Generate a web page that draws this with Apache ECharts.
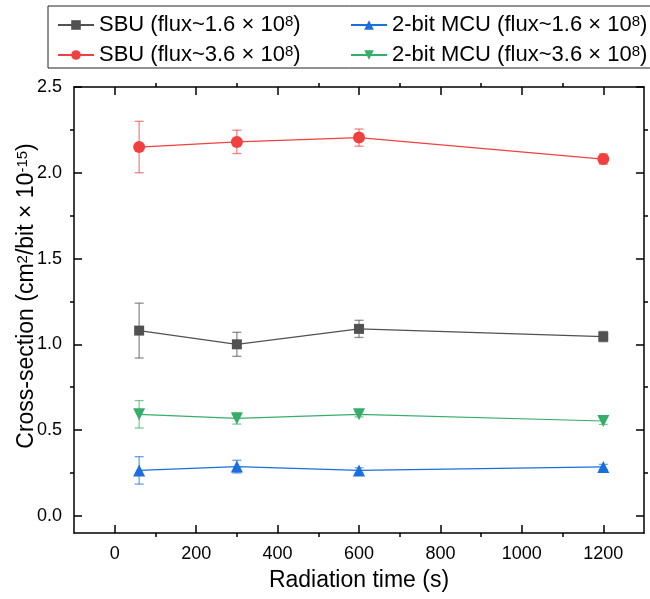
<!DOCTYPE html>
<html>
<head>
<meta charset="utf-8">
<script src="https://cdn.jsdelivr.net/npm/echarts@6/dist/echarts.min.js"></script>
<style>
html,body{margin:0;padding:0;background:#fff;}
#chart{width:650px;height:599px;}
</style>
</head>
<body>
<div id="chart"></div>
<script>
// ---- data ----
const radiationTime = [60, 300, 600, 1200];
const sbuLow = [1.08, 1.00, 1.09, 1.045];
const sbuLowErr = [0.16, 0.07, 0.05, 0.03];
const sbuHigh = [2.15, 2.18, 2.205, 2.08];
const sbuHighErr = [0.15, 0.068, 0.05, 0.03];
const mcuLow = [0.265, 0.287, 0.265, 0.285];
const mcuLowErr = [0.08, 0.037, 0.015, 0.015];
const mcuHigh = [0.592, 0.568, 0.592, 0.553];
const mcuHighErr = [0.08, 0.033, 0.015, 0.02];
const xMajorTicks = [0, 200, 400, 600, 800, 1000, 1200];
const xMinorTicks = [100, 300, 500, 700, 900, 1100];
const yMajorTicks = [0, 0.5, 1.0, 1.5, 2.0, 2.5];
const yMinorTicks = [0.25, 0.75, 1.25, 1.75, 2.25];
const seriesNames = [
  'SBU (flux~1.6 × 10{sup|8})',
  'SBU (flux~3.6 × 10{sup|8})',
  '2-bit MCU (flux~1.6 × 10{sup|8})',
  '2-bit MCU (flux~3.6 × 10{sup|8})'
];

const colors = ['#515151', '#F14040', '#1A6FDF', '#37AD6B'];
const errColors = ['rgba(81,81,81,0.65)', 'rgba(241,64,64,0.65)', 'rgba(26,111,223,0.65)', 'rgba(55,173,107,0.65)'];
const FONT = 'Liberation Sans, Arial, sans-serif';

function pts(vals) { return radiationTime.map((x, i) => [x, vals[i]]); }
function errPts(vals, errs) { return radiationTime.map((x, i) => [x, vals[i], errs[i]]); }

function errSeries(idx, vals, errs) {
  return {
    type: 'custom',
    xAxisIndex: 0, yAxisIndex: 0,
    z: 1,
    silent: true,
    data: errPts(vals, errs),
    encode: { x: 0, y: 1 },
    renderItem: function (params, api) {
      const x = api.value(0), y = api.value(1), e = api.value(2);
      const t = api.coord([x, y + e]);
      const b = api.coord([x, y - e]);
      const cw = 4.5;
      const st = { stroke: errColors[idx], lineWidth: 1.3 };
      return {
        type: 'group',
        children: [
          { type: 'line', shape: { x1: t[0], y1: t[1], x2: b[0], y2: b[1] }, style: st },
          { type: 'line', shape: { x1: t[0] - cw, y1: t[1], x2: t[0] + cw, y2: t[1] }, style: st },
          { type: 'line', shape: { x1: b[0] - cw, y1: b[1], x2: b[0] + cw, y2: b[1] }, style: st }
        ]
      };
    }
  };
}

function lineSeries(idx, vals, symbol, size, rot) {
  return {
    name: seriesNames[idx],
    type: 'line',
    xAxisIndex: 0, yAxisIndex: 0,
    z: 3,
    data: pts(vals),
    symbol: symbol,
    symbolSize: size,
    symbolRotate: rot || 0,
    showAllSymbol: true,
    color: colors[idx],
    itemStyle: { color: colors[idx], opacity: 1 },
    lineStyle: { color: colors[idx], width: 1.2 },
    emphasis: { disabled: true },
    animation: false
  };
}

const axisLineStyle = { color: '#000', width: 1.5 };
const tickStyle = { color: '#000', width: 1.5 };
const legendText = { fontFamily: FONT, fontSize: 22, color: '#000',
  rich: { sup: { fontSize: 15, verticalAlign: 'top', fontFamily: FONT, color: '#000' } } };

const option = {
  animation: false,
  grid: { left: 74, right: 6, top: 87, bottom: 66, containLabel: false },
  graphic: [{
    type: 'rect',
    shape: { x: 48, y: 6, width: 610, height: 62 },
    style: { fill: 'none', stroke: '#222', lineWidth: 1 },
    z: 0
  }],
  legend: [{
    orient: 'vertical',
    left: 52, top: 9,
    itemGap: 8,
    itemWidth: 36, itemHeight: 12,
    data: [seriesNames[0], seriesNames[1]],
    textStyle: legendText,
    symbolRotate: 'inherit'
  }, {
    orient: 'vertical',
    left: 345, top: 9,
    itemGap: 8,
    itemWidth: 36, itemHeight: 12,
    data: [seriesNames[2], seriesNames[3]],
    textStyle: legendText,
    symbolRotate: 'inherit'
  }],
  xAxis: [{
    type: 'value', position: 'bottom', min: -100, max: 1300,
    axisLine: { show: true, onZero: false, lineStyle: axisLineStyle },
    axisTick: { show: true, inside: true, length: 8, customValues: xMajorTicks, lineStyle: tickStyle },
    axisLabel: { show: true, customValues: xMajorTicks, fontSize: 18, fontFamily: FONT, color: '#000', margin: 12,
      formatter: v => String(v) },
    splitLine: { show: false },
    name: 'Radiation time (s)', nameLocation: 'middle', nameGap: 36, nameMoveOverlap: false,
    nameTextStyle: { fontSize: 23, fontFamily: FONT, color: '#000' }
  }, {
    type: 'value', position: 'bottom', min: -100, max: 1300,
    axisLine: { show: false, onZero: false },
    axisTick: { show: true, inside: false, length: 4, customValues: xMinorTicks, lineStyle: tickStyle },
    axisLabel: { show: false }, splitLine: { show: false }
  }, {
    type: 'value', position: 'top', min: -100, max: 1300,
    axisLine: { show: true, onZero: false, lineStyle: axisLineStyle },
    axisTick: { show: true, inside: true, length: 8, customValues: xMajorTicks, lineStyle: tickStyle },
    axisLabel: { show: false }, splitLine: { show: false }
  }, {
    type: 'value', position: 'top', min: -100, max: 1300,
    axisLine: { show: false, onZero: false },
    axisTick: { show: true, inside: false, length: 4, customValues: xMinorTicks, lineStyle: tickStyle },
    axisLabel: { show: false }, splitLine: { show: false }
  }],
  yAxis: [{
    type: 'value', position: 'left', min: -0.1, max: 2.5,
    axisLine: { show: true, onZero: false, lineStyle: axisLineStyle },
    axisTick: { show: true, inside: true, length: 8, customValues: yMajorTicks, lineStyle: tickStyle },
    axisLabel: { show: true, customValues: yMajorTicks, fontSize: 18, fontFamily: FONT, color: '#000', margin: 12,
      formatter: v => v.toFixed(1) },
    splitLine: { show: false },
    name: 'Cross-section (cm{sup|2}/bit × 10{sup|-15})', nameLocation: 'middle', nameGap: 36, nameRotate: 90,
    nameMoveOverlap: false,
    nameTextStyle: { fontSize: 23, fontFamily: FONT, color: '#000', padding: [0, 0, 0, 28],
      rich: { sup: { fontSize: 15, verticalAlign: 'top', fontFamily: FONT, color: '#000' } } }
  }, {
    type: 'value', position: 'left', min: -0.1, max: 2.5,
    axisLine: { show: false, onZero: false },
    axisTick: { show: true, inside: false, length: 4, customValues: yMinorTicks, lineStyle: tickStyle },
    axisLabel: { show: false }, splitLine: { show: false }
  }, {
    type: 'value', position: 'right', min: -0.1, max: 2.5,
    axisLine: { show: true, onZero: false, lineStyle: axisLineStyle },
    axisTick: { show: true, inside: true, length: 8, customValues: yMajorTicks, lineStyle: tickStyle },
    axisLabel: { show: false }, splitLine: { show: false }
  }, {
    type: 'value', position: 'right', min: -0.1, max: 2.5,
    axisLine: { show: false, onZero: false },
    axisTick: { show: true, inside: false, length: 4, customValues: yMinorTicks, lineStyle: tickStyle },
    axisLabel: { show: false }, splitLine: { show: false }
  }],
  series: [
    errSeries(0, sbuLow, sbuLowErr),
    errSeries(1, sbuHigh, sbuHighErr),
    errSeries(2, mcuLow, mcuLowErr),
    errSeries(3, mcuHigh, mcuHighErr),
    lineSeries(0, sbuLow, 'rect', 10),
    lineSeries(1, sbuHigh, 'circle', 12),
    lineSeries(2, mcuLow, 'triangle', 12),
    lineSeries(3, mcuHigh, 'triangle', 12, 180)
  ]
};

const chart = echarts.init(document.getElementById('chart'), null, { renderer: 'canvas' });
chart.setOption(option);
</script>
</body>
</html>
